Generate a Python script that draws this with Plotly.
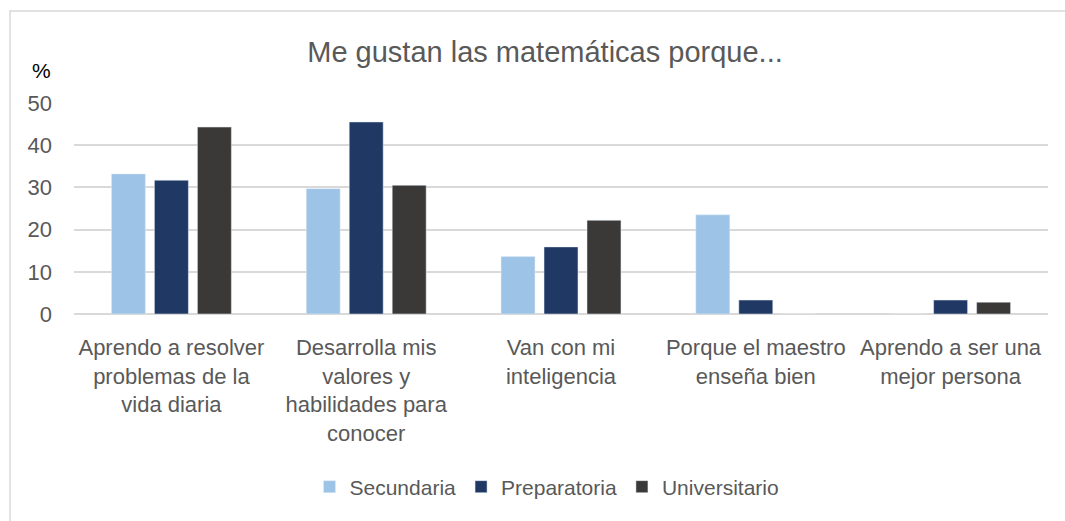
import plotly.graph_objects as go

categories = [
    "Aprendo a resolver<br>problemas de la<br>vida diaria",
    "Desarrolla mis<br>valores y<br>habilidades para<br>conocer",
    "Van con mi<br>inteligencia",
    "Porque el maestro<br>enseña bien",
    "Aprendo a ser una<br>mejor persona",
]
secundaria = [33.2, 29.7, 13.6, 23.5, 0]
preparatoria = [31.7, 45.5, 15.9, 3.3, 3.3]
universitario = [44.3, 30.5, 22.2, 0, 2.8]
y_ticks = [0, 10, 20, 30, 40, 50]

W, H = 1065, 521
L, R, T, B = 74, 1048, 103, 314
FONT = "Liberation Sans"

fig = go.Figure()
fig.add_trace(go.Bar(name="Secundaria", x=categories, y=secundaria, marker_color="#9DC3E6"))
fig.add_trace(go.Bar(name="Preparatoria", x=categories, y=preparatoria, marker_color="#203864"))
fig.add_trace(go.Bar(name="Universitario", x=categories, y=universitario, marker_color="#3A3937"))

pw, ph = R - L, B - T
def px_x(x):
    return (x - L) / pw
def px_y(y):
    return (B - y) / ph

fig.update_layout(
    width=W, height=H,
    margin=dict(l=L, r=W - R, t=T, b=H - B, autoexpand=False),
    paper_bgcolor="white", plot_bgcolor="white",
    barmode="group", bargap=0.338, bargroupgap=0.21,
    font=dict(family=FONT, color="#595959"),
    title=dict(text="Me gustan las matemáticas porque...", x=545 / W, xanchor="center",
               y=1 - 52 / H, yanchor="middle", yref="container",
               font=dict(size=29, color="#595959", family=FONT)),
    xaxis=dict(showgrid=False, showline=False, ticks="", tickfont=dict(size=22, color="#595959"),
               ticklabelstandoff=18),
    yaxis=dict(range=[0, 50], tickvals=y_ticks, showgrid=True, gridcolor="#D9D9D9", gridwidth=1.5,
               zeroline=True, zerolinecolor="#D9D9D9", zerolinewidth=1.5, showline=False,
               ticks="", tickfont=dict(size=22, color="#595959"), ticklabelstandoff=21),
    legend=dict(orientation="h", xref="container", yref="container", x=547 / W, xanchor="center",
                y=1 - 487 / H, yanchor="middle", font=dict(size=21, color="#595959"),
                itemwidth=30, traceorder="normal"),
    showlegend=True,
)

fig.add_annotation(text="%", xref="paper", yref="paper", x=px_x(41), y=px_y(70),
                   showarrow=False, font=dict(size=21, color="#000000", family=FONT),
                   xanchor="center", yanchor="middle")

fig.add_shape(type="rect", xref="paper", yref="paper",
              x0=px_x(10), x1=px_x(1070), y0=px_y(530), y1=px_y(11),
              line=dict(color="#D9D9D9", width=1.5), fillcolor="rgba(0,0,0,0)", layer="below")

fig.write_html("out.html", config={"displayModeBar": False},
               post_script="document.body.style.margin='0';document.body.style.overflow='hidden';")
